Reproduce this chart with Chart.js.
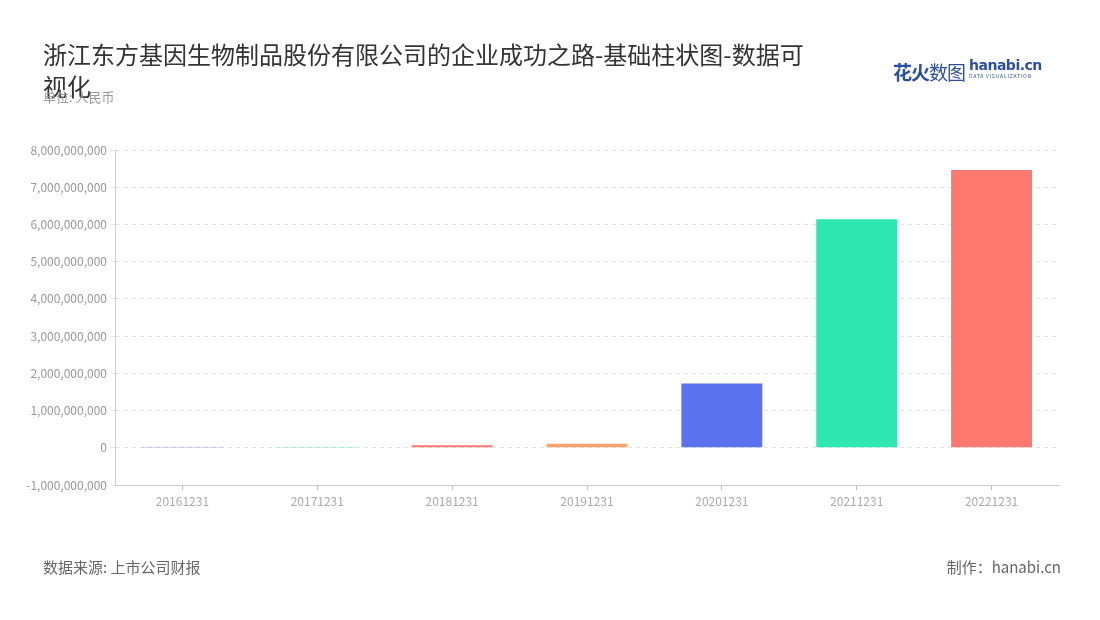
<!DOCTYPE html>
<html lang="zh">
<head>
<meta charset="UTF-8">
<title>基础柱状图</title>
<script src="https://cdn.jsdelivr.net/npm/chart.js@4.4.0/dist/chart.umd.min.js"></script>
<style>
  body { margin: 0; background: #fff; font-family: "Noto Sans CJK SC", "Noto Sans", sans-serif; }
  #wrap { position: relative; width: 1100px; height: 620px; overflow: hidden; }
  #chartBox { position: absolute; left: 0; top: 0; width: 1100px; height: 620px; }
  .title { position: absolute; left: 43px; top: 38px; width: 768px; font-size: 24px; line-height: 32px; color: #333; }
  .unit { position: absolute; left: 43px; top: 87px; font-size: 13px; color: #999; }
  .source { position: absolute; left: 43px; top: 556px; font-size: 15px; color: #666; }
  .maker { position: absolute; right: 39px; top: 556px; font-size: 15px; color: #666; }
  .logo { position: absolute; left: 893px; top: 58px; white-space: nowrap; }
  .logo .cn { font-size: 19px; font-weight: bold; color: #2b4fa8; letter-spacing: -1px; }
  .logo .cn span { font-weight: normal; }
  .logo .en { display: inline-block; vertical-align: top; margin-left: 4px; color: #2b4fa8; }
  .logo .en b { display: block; font-family: "DejaVu Sans", sans-serif; font-size: 14px; line-height: 15px; letter-spacing: -0.5px; }
  .logo .en i { display: block; font-style: normal; font-size: 5px; line-height: 6px; letter-spacing: 0.8px; }
</style>
</head>
<body>
<div id="wrap">
  <div id="chartBox"><canvas id="myChart"></canvas></div>
  <div class="title">浙江东方基因生物制品股份有限公司的企业成功之路-基础柱状图-数据可视化</div>
  <div class="unit">单位: 人民币</div>
  <div class="logo"><span class="cn">花火<span>数图</span></span><span class="en"><b>hanabi.cn</b><i>DATA VISUALIZATION</i></span></div>
  <div class="source">数据来源: 上市公司财报</div>
  <div class="maker">制作：hanabi.cn</div>
</div>
<script>
const categories = ['20161231', '20171231', '20181231', '20191231', '20201231', '20211231', '20221231'];
const values = [22000000, 20000000, 65000000, 110000000, 1725000000, 6140000000, 7460000000];
const palette = ['#5b72ee', '#2ee6b0', '#ff7870', '#ffa36e'];

const barColors = categories.map((c, i) => palette[i % palette.length]);

const ctx = document.getElementById('myChart').getContext('2d');
const myChart = new Chart(ctx, {
  type: 'bar',
  data: {
    labels: categories,
    datasets: [{
      data: values,
      backgroundColor: barColors,
      barPercentage: 0.6,
      categoryPercentage: 1
    }]
  },
  options: {
    responsive: true,
    maintainAspectRatio: false,
    animation: false,
    layout: { padding: { top: 150, right: 41, left: 0, bottom: 0 } },
    plugins: { legend: { display: false }, tooltip: { enabled: false } },
    scales: {
      x: {
        grid: { offset: false, drawOnChartArea: false, drawTicks: true, tickLength: 5, color: '#bbb' },
        border: { display: true, color: '#ccc' },
        ticks: { color: '#aaa', font: { size: 12, family: 'Noto Sans CJK SC' }, padding: 4 },
        afterFit: s => { s.height = 135; }
      },
      y: {
        min: -1000000000,
        max: 8000000000,
        ticks: {
          stepSize: 1000000000,
          color: '#999',
          font: { size: 12, family: 'Noto Sans CJK SC' },
          padding: 4,
          callback: v => v.toLocaleString('en-US')
        },
        grid: { color: '#e3e3e3', tickLength: 4 },
        border: { display: true, color: '#ccc', dash: [4, 4] },
        afterFit: s => { s.width = 115; }
      }
    }
  }
});
</script>
</body>
</html>
